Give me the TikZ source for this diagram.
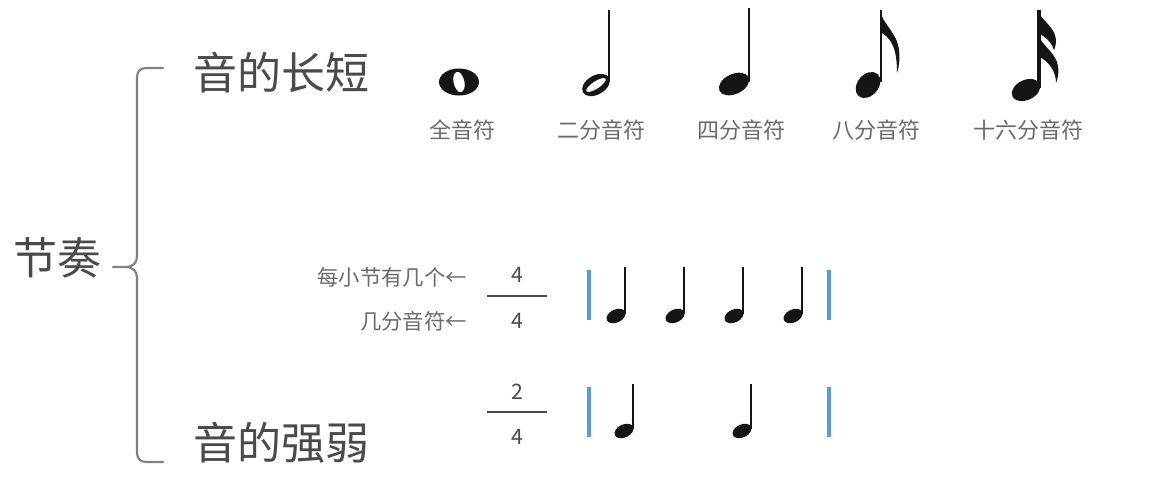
\documentclass[tikz,border=0pt]{standalone}
\usepackage{fontspec}
\setmainfont{Noto Sans CJK SC}
\definecolor{bigtxt}{HTML}{4A4A4A}
\definecolor{smalltxt}{HTML}{6A6A6A}
\definecolor{bracegray}{HTML}{808080}
\definecolor{barblue}{HTML}{5B9BD5}
\definecolor{ink}{HTML}{151515}
\begin{document}
\begin{tikzpicture}[x=0.75pt,y=0.75pt,
  bigtext/.style={inner sep=0pt,text=bigtxt,font=\fontsize{33}{38}\selectfont},
  notelabel/.style={inner sep=0pt,text=smalltxt,font=\fontsize{16.5}{19}\selectfont},
  sidelabel/.style={inner sep=0pt,text=smalltxt,font=\fontsize{16}{19}\selectfont,anchor=east},
  digit/.style={inner sep=0pt,text=bigtxt,font=\fontsize{16}{18}\selectfont},
  fracline/.style={draw=bigtxt,line width=2pt},
  barline/.style={draw=barblue,line width=2.4pt},
  bracestyle/.style={draw=bracegray,line width=1.6pt,line cap=round,line join=round},
  stemline/.style={draw=ink,line width=1.7pt},
  bigstem/.style={draw=ink,line width=2pt}]
\useasboundingbox (0,0) rectangle (1155,-482);
\fill[white] (0,0) rectangle (1155,-482);

% main texts
\node[bigtext] (rhythm) at (57,-258) {节奏};
\node[bigtext] (length) at (281,-73) {音的长短};
\node[bigtext] (strength) at (281,-443) {音的强弱};

% brace
\coordinate (btop) at (163,-68);
\coordinate (bbot) at (163,-462);
\coordinate (btip) at (113,-267);
\draw[bracestyle] (btop) -- (147,-68) .. controls (140,-68) and (137,-71) .. (137,-78)
  -- (137,-256) .. controls (137,-263) and (133,-267) .. (125,-267) -- (btip);
\draw[bracestyle] (125,-267) .. controls (133,-267) and (137,-271) .. (137,-278)
  -- (137,-452) .. controls (137,-459) and (140,-462) .. (147,-462) -- (bbot);

% whole note
\fill[ink,even odd rule] (459,-82) ellipse [x radius=20, y radius=13.5]
  (459,-82) circle [x radius=5.5, y radius=10.5, rotate=12];
% half note
\fill[ink,even odd rule] (596,-85) circle [x radius=15, y radius=9.5, rotate=30]
  (596,-85) circle [x radius=11.5, y radius=3.8, rotate=33];
\draw[stemline] (609,-82) -- (609,-10);
% quarter note
\fill[ink] (734,-84) circle [x radius=16, y radius=10, rotate=25];
\draw[bigstem] (749,-82) -- (749,-8);
% eighth note
\fill[ink] (868,-85) circle [x radius=14.5, y radius=10.5, rotate=50];
\draw[bigstem] (881,-82) -- (881,-10);
\fill[ink] (880,-10) .. controls (882,-24) and (897,-32) .. (899,-50)
  .. controls (900,-60) and (899,-67) .. (897,-73)
  .. controls (897,-62) and (896,-50) .. (891,-42)
  .. controls (888,-37) and (884,-34) .. (880,-32) -- cycle;
% sixteenth note
\fill[ink] (1026,-90) circle [x radius=15, y radius=10, rotate=25];
\draw[ink,line width=2.4pt] (1039,-88) -- (1039,-10);
\fill[ink] (1038,-10) .. controls (1040,-20) and (1055,-26) .. (1056,-40)
  .. controls (1056,-44) and (1055,-48) .. (1054,-50)
  .. controls (1052,-43) and (1046,-37) .. (1038,-33) -- cycle;
\fill[ink] (1038,-33) .. controls (1040,-45) and (1056,-52) .. (1058,-66)
  .. controls (1059,-72) and (1058,-78) .. (1056,-83)
  .. controls (1056,-72) and (1050,-62) .. (1038,-56) -- cycle;

% note labels
\node[notelabel] (whole) at (462,-130) {全音符};
\node[notelabel] (half) at (601,-130) {二分音符};
\node[notelabel] (quarter) at (741,-130) {四分音符};
\node[notelabel] (eighth) at (876,-130) {八分音符};
\node[notelabel] (sixteenth) at (1028,-130) {十六分音符};

% 4/4 measure
\node[sidelabel] (beats) at (467,-277) {每小节有几个←};
\node[sidelabel] (unit) at (467,-321) {几分音符←};
\node[digit] (n44) at (517,-275) {4};
\node[digit] (d44) at (517,-321) {4};
\draw[fracline] (487,-296) -- (547,-296);
\draw[barline] (589,-270) -- (589,-320);
\draw[barline] (829,-270) -- (829,-320);
\foreach \cx in {616,675,734,793}{
  \fill[ink] (\cx,-316) circle [x radius=10, y radius=6.5, rotate=25];
  \draw[stemline] (\cx+8.8,-314) -- (\cx+8.8,-267);
}

% 2/4 measure
\node[digit] (n24) at (517,-392) {2};
\node[digit] (d24) at (517,-437) {4};
\draw[fracline] (487,-412) -- (547,-412);
\draw[barline] (589,-387) -- (589,-437);
\draw[barline] (829,-387) -- (829,-437);
\foreach \cx in {624,742}{
  \fill[ink] (\cx,-431) circle [x radius=10, y radius=6.5, rotate=25];
  \draw[stemline] (\cx+8.8,-429) -- (\cx+8.8,-384);
}
\end{tikzpicture}
\end{document}
